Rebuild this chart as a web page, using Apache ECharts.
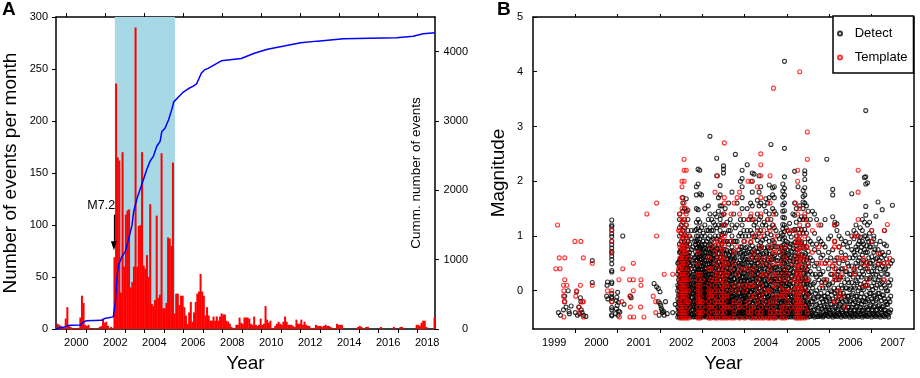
<!DOCTYPE html>
<html>
<head>
<meta charset="utf-8">
<script src="https://cdn.jsdelivr.net/npm/echarts@6/dist/echarts.min.js"></script>
<style>
  html, body { margin: 0; padding: 0; background: #fff; }
  #chart { width: 920px; height: 378px; }
</style>
</head>
<body>
<div id="chart"></div>
<script>
// ---------- Panel A: monthly event counts + cumulative curve ----------
const firstMonth = [1999, 6]; // first bar = June 1999
const monthlyEvents = [
  1, 5, 4, 3, 2, 1, 10,                                   // 1999 Jun-Dec
  21, 3, 2, 1, 1, 0, 1, 1, 11, 32, 25, 4,                 // 2000
  3, 4, 1, 0, 0, 1, 0, 1, 2, 3, 10, 6,                    // 2001
  7, 3, 1, 2, 1, 69, 236, 165, 162, 35, 170, 60,          // 2002
  110, 114, 115, 40, 45, 60, 290, 60, 99, 100, 170, 61,   // 2003
  58, 71, 50, 120, 24, 22, 28, 109, 30, 33, 169, 20,      // 2004
  20, 25, 88, 87, 80, 160, 15, 34, 34, 23, 32, 32,        // 2005
  21, 13, 5, 16, 26, 7, 16, 26, 34, 36, 53, 36,           // 2006
  32, 13, 21, 13, 8, 8, 12, 8, 12, 8, 12, 15,             // 2007
  14, 14, 8, 7, 5, 2, 1, 1, 4, 4, 11, 6,                  // 2008
  5, 11, 11, 11, 10, 5, 4, 12, 4, 3, 4, 10,               // 2009
  4, 5, 22, 9, 6, 8, 1, 1, 3, 5, 7, 5,                    // 2010
  4, 7, 12, 7, 4, 4, 4, 3, 2, 9, 5, 5,                    // 2011
  9, 4, 7, 4, 3, 3, 1, 1, 1, 4, 3, 3,                     // 2012
  3, 2, 3, 4, 3, 3, 2, 1, 0, 1, 5, 4,                     // 2013
  4, 4, 0, 0, 0, 0, 0, 0, 0, 0, 1, 2,                     // 2014
  3, 2, 1, 0, 2, 2, 0, 0, 0, 0, 0, 0,                     // 2015
  0, 2, 0, 0, 0, 0, 0, 0, 0, 2, 0, 0,                     // 2016
  0, 2, 2, 0, 0, 0, 0, 0, 0, 0, 0, 4,                     // 2017
  4, 3, 6, 8, 8, 2, 0, 0, 0, 0, 11                        // 2018 Jan-Nov
];

const cumYears = [1999.46, 1999.6, 1999.9, 2000.08, 2000.2, 2000.7, 2000.85, 2001.0, 2001.8, 2001.95,
  2002.4, 2002.45, 2002.51, 2002.6, 2002.68, 2002.85, 2003.02, 2003.19, 2003.36, 2003.44,
  2003.61, 2003.78, 2003.95, 2004.12, 2004.29, 2004.46, 2004.63, 2004.8, 2004.89, 2005.05,
  2005.23, 2005.39, 2005.5, 2005.74, 2005.99, 2006.24, 2006.5, 2006.67, 2006.92, 2007.09,
  2007.26, 2007.94, 2008.96, 2009.63, 2010.31, 2011.16, 2012.01, 2012.86, 2014.21, 2016.93,
  2017.78, 2018.29, 2018.9];
const cumEvents = [0, 15, 30, 50, 55, 58, 95, 118, 125, 150,
  175, 195, 408, 787, 930, 1048, 1119, 1308, 1498, 1688,
  1877, 2019, 2161, 2303, 2423, 2494, 2636, 2707, 2849, 2896,
  3014, 3157, 3276, 3347, 3418, 3465, 3503, 3536, 3692, 3740,
  3759, 3868, 3901, 3977, 4034, 4081, 4129, 4152, 4186, 4200,
  4223, 4257, 4272];

const shadeYears = [2002.48, 2005.56];
const mainshockArrow = [[2002.43, 110], [2002.43, 80]];
const mainshockText = [2001.78, 119, 'M7.2'];

const yearTicksA = [2000, 2001, 2002, 2003, 2004, 2005, 2006, 2007, 2008, 2009,
  2010, 2011, 2012, 2013, 2014, 2015, 2016, 2017, 2018];
const yearLabelsA = [2000, 2002, 2004, 2006, 2008, 2010, 2012, 2014, 2016, 2018];
const cumTicks = [0, 1000, 2000, 3000, 4000];

// ---------- Panel B: magnitudes of detected / template events ----------
const yearTicksB = [2000, 2001, 2002, 2003, 2004, 2005, 2006, 2007];
const yearLabelsB = [1999, 2000, 2001, 2002, 2003, 2004, 2005, 2006, 2007];
const magTicks = [0, 1, 2, 3, 4, 5];

const detectPoints = [
  [1999.6, -.4], [1999.65, -.45], [1999.72, -.35], [1999.75, -.1], [1999.75, -.2], [1999.78, -.3],
  [1999.83, 0], [1999.85, -.38], [1999.86, -.42], [1999.9, -.28], [2000.0, -.4], [2000.03, -.02],
  [2000.05, -.45], [2000.08, -.3], [2000.1, -.42], [2000.12, -.13], [2000.13, -.2], [2000.14, -.35],
  [2000.16, -.4], [2000.2, -.45], [2000.25, -.47], [2000.4, .55], [2000.4, .15],
  [2000.76, .16], [2000.75, .1], [2000.74, -.1], [2000.77, -.15],
  [2001.0, -.03], [2000.98, -.12], [2000.97, -.18], [2001.02, -.21], [2000.99, -.27], [2000.97, -.33],
  [2001.02, -.37], [2001.05, -.39], [2000.95, -.42], [2001.01, -.45], [2001.15, -.25], [2001.12, 1.0],
  [2001.3, -.1], [2001.32, -.13], [2001.86, .13], [2001.92, .07], [2001.96, .04], [2002.0, -.02],
  [2001.96, -.2], [2002.0, -.23], [2002.02, -.27], [2002.03, -.32], [2002.05, -.36], [2002.06, -.4],
  [2002.1, -.45], [2002.13, -.2], [2002.09, -.38], [2002.17, -.42], [2001.98, -.45],
  [2002.3, -.4], [2002.36, -.25]
];

const detectColumns = [
  [2000.86, [1.29, 1.2, 1.17, 1.11, 1.04, .99, .9, .84, .78, .72, .69, .63, .57, .49, .37, .34, .16, .13, -.05, -.11, -.14, -.2, -.31, -.35, -.44, -.46]],
  [2002.42, [-.48, -.4, -.3, -.15, 0, .1, .3, .5]],
  [2002.46, [-.48, -.42, -.35, -.25, -.18, -.1, 0, .08, .15, .25, .35, .45, .55, .7, .85, 1.0, 1.15, 1.3, 1.4]],
  [2002.50, [-.47, -.38, -.3, -.2, -.12, -.05, .05, .12, .2, .3, .4, .5, .6, .75, .9, 1.05, 1.2]],
  [2002.54, [-.48, -.4, -.33, -.22, -.15, -.05, .02, .1, .2, .28, .38, .48, .6, .7, .82, .95, 1.1, 1.25, 1.45, 1.6, 1.7]],
  [2002.58, [-.46, -.36, -.28, -.2, -.1, 0, .1, .18, .28, .36, .45, .55, .65, .78, .9, 1.02, 1.15, 1.3, 1.5]],
  [2002.62, [-.48, -.4, -.3, -.22, -.12, -.02, .06, .15, .25, .35, .46, .58, .7, .85, 1.0, 1.2, 1.45, 1.68]],
  [2002.66, [-.45, -.35, -.25, -.15, -.05, .05, .15, .25, .38, .5, .62, .75, .9, 1.1, 1.3, 1.47]],
  [2002.70, [-.48, -.38, -.28, -.18, -.08, .02, .12, .22, .34, .45, .58, .7, .85, 1.0]],
  [2002.74, [-.46, -.36, -.24, -.12, 0, .12, .25, .4, .55, .75, .95, 1.1]],
  [2002.78, [-.48, -.35, -.2, -.05, .1, .3, .5, .8]],
  [2002.82, [-.47, -.4, -.3, -.2, -.1, 0, .1, .25, .4, .6, .9, 1.1]],
  [2002.86, [-.48, -.4, -.3, -.22, -.14, -.05, .05, .15, .25, .35, .45, .55, .65, .78, .9, 1.0, 1.12, 1.25, 1.5, 1.75, 1.9]],
  [2002.90, [-.46, -.38, -.3, -.2, -.1, -.02, .08, .18, .28, .38, .5, .6, .72, .85, 1.0, 1.15, 1.3, 1.48, 1.95, 2.22]],
  [2002.94, [-.48, -.4, -.32, -.24, -.15, -.06, .04, .14, .24, .34, .44, .56, .68, .8, .95, 1.1, 1.25, 1.77, 2.2]],
  [2002.98, [-.47, -.37, -.27, -.17, -.07, .03, .13, .23, .33, .45, .58, .7, .85, 1.0, 1.15, 1.75]],
  [2003.02, [-.48, -.4, -.3, -.2, -.1, 0, .1, .2, .32, .45, .6, .75, .9, 1.05]],
  [2003.06, [-.46, -.36, -.26, -.16, -.06, .04, .16, .28, .42, .56, .7, .85, 1.0, 1.2, 1.5]],
  [2003.10, [-.48, -.38, -.28, -.18, -.08, .02, .14, .26, .4, .55, .7, .9, 1.1]],
  [2003.14, [-.47, -.39, -.3, -.2, -.1, 0, .1, .2, .3, .42, .55, .68, .82, .95, 1.1, 1.3, 1.55]],
  [2003.18, [-.48, -.4, -.32, -.22, -.12, -.02, .08, .18, .3, .42, .55, .7, .85, 1.0, 1.15, 1.4, 2.82]],
  [2003.22, [-.46, -.36, -.26, -.16, -.06, .06, .18, .3, .45, .6, .75, .92, 1.1, 1.3]],
  [2003.26, [-.48, -.38, -.28, -.18, -.08, .02, .12, .24, .36, .5, .65, .8, .95, 1.1, 1.25]],
  [2003.30, [-.47, -.37, -.27, -.15, -.03, .1, .22, .35, .5, .65, .82, 1.0, 1.2, 1.4]],
  [2003.34, [-.48, -.4, -.3, -.2, -.1, 0, .1, .22, .34, .48, .62, .78, .95, 1.15, 1.35, 2.1, 2.42]],
  [2003.38, [-.46, -.38, -.28, -.18, -.08, .02, .12, .24, .38, .52, .68, .84, 1.0, 1.2, 1.45, 1.7]],
  [2003.42, [-.48, -.4, -.32, -.22, -.12, -.02, .08, .2, .32, .45, .6, .76, .92, 1.1, 1.3, 1.55, 1.75, 1.92]],
  [2003.46, [-.47, -.37, -.27, -.17, -.07, .03, .14, .26, .4, .55, .7, .86, 1.02, 1.2, 1.38, 1.55]],
  [2003.50, [-.48, -.39, -.3, -.2, -.1, 0, .1, .2, .32, .45, .6, .75, .9, 1.05, 1.2, 1.4, 2.15, 2.22, 2.28]],
  [2003.54, [-.46, -.36, -.26, -.16, -.06, .05, .16, .28, .42, .58, .75, .9, 1.05, 1.2, 1.5]],
  [2003.58, [-.48, -.38, -.28, -.18, -.08, .02, .14, .28, .42, .58, .74, .9, 1.25]],
  [2003.62, [-.47, -.37, -.27, -.17, -.05, .08, .2, .34, .5, .66, .85, 1.1, 1.6]],
  [2003.66, [-.48, -.4, -.3, -.2, -.1, 0, .12, .25, .4, .56, .72, .9, 1.1, 1.3]],
  [2003.70, [-.46, -.36, -.24, -.12, 0, .12, .26, .42, .6, .8, 1.0, 1.2, 1.8]],
  [2003.74, [-.48, -.38, -.28, -.16, -.04, .08, .22, .38, .55, .72, .9, 1.4]],
  [2003.78, [-.47, -.37, -.25, -.13, 0, .14, .3, .48, .68, .9, 1.15, 2.49]],
  [2003.82, [-.48, -.36, -.22, -.08, .08, .25, .45, .65, .9, 1.2, 1.6]],
  [2003.86, [-.46, -.34, -.2, -.05, .1, .28, .5, .75, 1.0]],
  [2003.90, [-.48, -.38, -.26, -.12, .02, .18, .36, .56, .8, 1.05, 1.3, 2.0]],
  [2003.94, [-.47, -.37, -.27, -.15, -.03, .1, .25, .42, .6, .8, 1.0, 1.2, 1.5, 1.7, 1.9, 2.05, 2.2]],
  [2003.98, [-.48, -.4, -.3, -.2, -.1, 0, .12, .25, .4, .56, .72, .9, 1.1, 1.3]],
  [2004.02, [-.46, -.36, -.26, -.14, -.02, .1, .24, .4, .58, .78, 1.0]],
  [2004.06, [-.48, -.38, -.26, -.12, .02, .18, .36, .56, .8, 1.1, 1.5, 2.3]],
  [2004.10, [-.47, -.35, -.22, -.08, .08, .26, .46, .7, 1.0, 1.3]],
  [2004.14, [-.48, -.38, -.27, -.15, -.02, .12, .28, .46, .66, .88, 1.1, 1.35, 1.6]],
  [2004.18, [-.46, -.36, -.24, -.1, .05, .22, .4, .6, .82, 1.05, 1.3, 1.55, 1.8, 2.0, 2.15]],
  [2004.22, [-.48, -.4, -.3, -.18, -.06, .08, .22, .38, .55, .75, .98, 1.2, 2.13]],
  [2004.26, [-.47, -.37, -.25, -.12, .02, .18, .35, .55, .78, 1.0, 1.25]],
  [2004.30, [-.48, -.38, -.26, -.13, 0, .15, .32, .5, .7, .92, 1.15, 1.4, 1.65]],
  [2004.34, [-.46, -.36, -.24, -.1, .05, .22, .4, .6, .82, 1.05, 1.3, 1.55, 1.8, 2.1]],
  [2004.38, [-.48, -.38, -.27, -.15, -.02, .12, .28, .46, .66, .88, 1.1, 1.35, 1.6, 1.9]],
  [2004.42, [-.47, -.35, -.22, -.08, .08, .25, .45, .68, .92, 1.2]],
  [2004.46, [-.48, -.37, -.25, -.12, .02, .18, .36, .56, .78, 1.0, 1.25, 1.55]],
  [2004.50, [-.46, -.34, -.2, -.05, .12, .3, .5, .72, .95, 1.2, 1.45, 1.68]],
  [2004.54, [-.48, -.38, -.26, -.12, .03, .2, .38, .58, .8, 1.05, 1.3, 1.6]],
  [2004.58, [-.47, -.36, -.24, -.1, .06, .24, .44, .66, .9, 1.15, 1.4, 1.7, 1.93]],
  [2004.62, [-.48, -.38, -.26, -.13, .02, .18, .36, .56, .78, 1.02, 1.3, 2.67]],
  [2004.66, [-.46, -.35, -.22, -.08, .08, .26, .46, .68, .92, 1.2, 1.5, 1.75, 1.88]],
  [2004.70, [-.48, -.38, -.26, -.12, .04, .22, .42, .64, .88, 1.15, 1.45, 1.7, 1.9]],
  [2004.74, [-.47, -.36, -.22, -.06, .12, .32, .55, .8, 1.1, 1.4]],
  [2004.78, [-.48, -.36, -.22, -.06, .12, .32, .55, .8, 1.0]],
  [2004.82, [-.46, -.32, -.16, .02, .22, .45, .7, .95]],
  [2004.86, [-.48, -.36, -.22, -.06, .12, .32, .55, .8, 1.05]],
  [2004.90, [-.47, -.38, -.29, -.17, -.08, .03, .11, .23, .31, .43, .51, .63, .71, .83, .94, 1.02, 1.13, 1.21, 1.34, 1.45, 1.57, 1.71, 1.82, 1.95]],
  [2004.94, [-.48, -.4, -.31, -.2, -.11, -.02, .09, .18, .3, .4, .5, .62, .73, .85, .97, 1.08, 1.2, 1.33, 1.46, 1.6, 1.75, 1.87, 2.08, 2.6, 4.19]],
  [2004.98, [-.46, -.35, -.22, -.08, .08, .25, .44, .65, .9, 1.15]],
  [2005.02, [-.48, -.38, -.26, -.12, .04, .22, .42, .64, .88, 1.1]],
  [2005.06, [-.47, -.35, -.22, -.06, .12, .32, .55, .8, 1.05, 1.23]],
  [2005.10, [-.48, -.37, -.24, -.09, .08, .27, .48, .72, .98]],
  [2005.14, [-.46, -.34, -.2, -.04, .14, .35, .58, .84, 1.1, 1.4]],
  [2005.18, [-.48, -.38, -.26, -.12, .04, .22, .42, .64, .88, 1.12, 1.38, 1.6, 2.18]],
  [2005.22, [-.47, -.36, -.23, -.08, .1, .3, .52, .76, 1.0, 1.25, 1.5]],
  [2005.26, [-.48, -.38, -.26, -.12, .04, .22, .42, .64, .88, 1.12, 1.9]],
  [2005.30, [-.46, -.35, -.22, -.06, .12, .32, .54, .78, 1.05, 1.3, 1.55]],
  [2005.34, [-.48, -.38, -.26, -.12, .04, .22, .42, .64, .88, 1.12, 1.35]],
  [2005.38, [-.47, -.36, -.22, -.06, .12, .32, .55, .8, 1.05, 1.3, 1.5, 1.62, 1.72, 1.83]],
  [2005.42, [-.48, -.38, -.26, -.12, .04, .22, .42, .64, .88, 1.12, 1.35, 1.6, 1.75, 1.88, 2.03, 2.13, 2.19]],
  [2005.46, [-.46, -.34, -.2, -.04, .14, .34, .56, .8, 1.05, 1.3, 1.55]],
  [2005.50, [-.48, -.36, -.22, -.06, .12, .3, .5, .72, .95, 1.2, 1.45]],
  [2005.55, [-.47, -.3, -.1, .1, .35, .6, .9, 1.3]],
  [2005.60, [-.45, -.2, .05, .3, .55, .85, 1.45]],
  [2005.65, [-.48, -.35, -.15, .15, .45, .75, 1.05, 1.4]],
  [2005.70, [-.44, -.25, 0, .25, .5, .85, 1.3]],
  [2005.75, [-.47, -.32, -.1, .2, .4, .7, .95]],
  [2005.80, [-.46, -.28, -.05, .3, .6, .9, 1.2]],
  [2005.85, [-.48, -.38, -.2, .05, .35, .65, .85]],
  [2005.90, [-.45, -.3, -.1, .15, .5, .8, 1.3]],
  [2005.94, [-.4, -.2, .2, .55, 2.4]],
  [2005.98, [-.47, -.33, -.12, .1, .4, .7, .95]],
  [2006.03, [-.44, -.25, 0, .3, .6, 1.0]],
  [2006.08, [-.48, -.35, -.15, .15, .45, .75, 1.35, 1.75, 1.85]],
  [2006.13, [-.46, -.3, -.05, .25, .55, .9, 1.2, 1.25]],
  [2006.18, [-.47, -.38, -.2, 0, .3, .6, 1.1, 1.22]],
  [2006.23, [-.44, -.28, -.1, .2, .5, .8, 1.0]],
  [2006.28, [-.48, -.35, -.15, .1, .4, .7, .95]],
  [2006.33, [-.45, -.3, -.05, .25, .55, .85]],
  [2006.38, [-.47, -.36, -.18, .05, .35, .65, .9]],
  [2006.43, [-.44, -.3, -.1, .2, .5, .8, 1.05]],
  [2006.48, [-.48, -.38, -.2, .02, .3, .6, .88]],
  [2006.53, [-.46, -.3, -.08, .15, .45, .75, 1.0, 1.77]],
  [2006.58, [-.48, -.36, -.16, .08, .38, .7, .95, 1.1]],
  [2006.63, [-.45, -.3, -.1, .18, .5, .8, 1.05, 1.2]],
  [2006.68, [-.47, -.38, -.22, 0, .25, .55, .85, 1.0]],
  [2006.73, [-.44, -.3, -.12, .12, .42, .72, .98, 1.15]],
  [2006.78, [-.48, -.36, -.18, .06, .35, .65, .9, 1.1, 1.3]],
  [2006.83, [-.46, -.32, -.12, .15, .45, .75, 1.0, 1.25, 2.07]],
  [2006.86, [-.45, -.2, .1, .4, .7, 1.0, 1.38, 1.54, 1.95, 2.08, 3.29]],
  [2006.90, [-.47, -.35, -.15, .1, .4, .7, .95, 1.2, 1.97]],
  [2006.95, [-.44, -.28, -.05, .22, .5, .8, 1.05, 1.25]],
  [2007.00, [-.48, -.35, -.15, .08, .35, .62, .9, 1.1]],
  [2007.05, [-.45, -.3, -.1, .15, .42, .7, .95, 1.0]],
  [2007.10, [-.47, -.36, -.18, .05, .3, .58, .85, 1.36]],
  [2007.15, [-.44, -.28, -.05, .2, .48, .75, 1.62]],
  [2007.20, [-.48, -.33, -.12, .12, .4, .68, .9]],
  [2007.25, [-.45, -.3, -.08, .15, .45, .7, 1.48]],
  [2007.30, [-.47, -.35, -.15, .1, .38, .65, .85, 1.1]],
  [2007.35, [-.44, -.25, 0, .3, .58, .82]],
  [2007.40, [-.48, -.38, -.15, .15, .45, .7]],
  [2007.45, [-.35, -.1, .2, .5]],
  [2007.49, [.55, 1.56]]
];

// extra low-magnitude detections that fill the dense lower part of the cloud
const detectLowColumns = [
  [2002.44, [-.44, -.33, -.21, -.08, .06, .2, .36, .52]],
  [2002.48, [-.46, -.36, -.27, -.16, -.06, .04, .16, .28, .42, .58, .72]],
  [2002.52, [-.43, -.33, -.24, -.13, -.01, .09, .23, .37, .52, .66]],
  [2002.56, [-.45, -.35, -.25, -.13, -.03, .08, .22, .33, .47, .61, .8]],
  [2002.60, [-.42, -.32, -.19, -.07, .04, .17, .31, .41, .53, .67]],
  [2002.64, [-.44, -.31, -.2, -.09, .01, .11, .2, .3, .43, .55, .68, .81]],
  [2002.68, [-.42, -.32, -.21, -.1, 0, .09, .19, .29, .41, .52, .64]],
  [2002.72, [-.43, -.3, -.19, -.04, .06, .18, .31, .47, .62]],
  [2002.76, [-.43, -.28, -.12, .03, .2]],
  [2002.84, [-.44, -.34, -.25, -.17, -.07, .02, .12, .2, .31, .41, .5, .62, .71, .84]],
  [2002.88, [-.44, -.33, -.24, -.15, -.06, .03, .13, .23, .33, .44, .55, .66, .79, .93]],
  [2002.92, [-.43, -.34, -.26, -.16, -.05, .05, .16, .29, .4, .52, .63, .76, .88]],
  [2002.96, [-.45, -.35, -.23, -.11, -.01, .09, .19, .28, .39, .51, .63, .77]],
  [2003.00, [-.44, -.35, -.25, -.15, -.05, .06, .16, .27, .39, .52, .67, .82]],
  [2003.04, [-.43, -.31, -.21, -.11, 0, .1, .22, .35, .49, .63, .78]],
  [2003.08, [-.44, -.33, -.23, -.13, -.02, .08, .2, .33, .47, .62, .78]],
  [2003.12, [-.43, -.35, -.25, -.15, -.05, .05, .15, .25, .36, .48, .61, .75]],
  [2003.16, [-.44, -.36, -.27, -.17, -.07, .03, .13, .24, .36, .49, .62, .77]],
  [2003.20, [-.43, -.31, -.21, -.11, .01, .12, .24, .37, .52, .67, .83]],
  [2003.24, [-.44, -.33, -.23, -.13, -.03, .07, .18, .3, .43, .57, .72]],
  [2003.28, [-.43, -.32, -.21, -.09, .04, .16, .28, .42, .57, .73]],
  [2003.32, [-.45, -.35, -.25, -.15, -.05, .05, .16, .28, .41, .55, .7]],
  [2003.36, [-.43, -.33, -.23, -.13, -.03, .07, .18, .31, .45, .6, .76]],
  [2003.40, [-.44, -.36, -.27, -.17, -.07, .03, .14, .26, .38, .52, .68]],
  [2003.44, [-.42, -.32, -.22, -.12, -.02, .09, .2, .33, .47, .62, .78]],
  [2003.48, [-.44, -.35, -.25, -.15, -.05, .05, .15, .26, .38, .52, .67]],
  [2003.52, [-.42, -.31, -.21, -.11, 0, .11, .22, .35, .5, .66]],
  [2003.56, [-.43, -.33, -.23, -.13, -.03, .08, .21, .35, .5, .66]],
  [2003.60, [-.42, -.32, -.22, -.11, .01, .14, .27, .42, .58]],
  [2003.64, [-.44, -.35, -.25, -.15, -.05, .06, .18, .32, .48, .64]],
  [2003.68, [-.42, -.3, -.18, -.06, .06, .19, .34, .51, .7]],
  [2003.72, [-.43, -.33, -.22, -.1, .02, .15, .3, .47, .64]],
  [2003.76, [-.42, -.31, -.19, -.07, .07, .22, .39, .58]],
  [2003.80, [-.43, -.29, -.15, 0, .16, .35, .55]],
  [2003.84, [-.42, -.28, -.13, .02, .18, .38]],
  [2003.88, [-.43, -.32, -.19, -.05, .1, .27, .46, .68]],
  [2003.92, [-.42, -.32, -.21, -.09, .04, .17, .33, .5, .7]],
  [2003.96, [-.44, -.35, -.25, -.15, -.05, .06, .18, .32, .48, .64]],
  [2004.00, [-.41, -.31, -.2, -.08, .04, .17, .32, .49, .68]],
  [2004.04, [-.43, -.32, -.19, -.05, .1, .27, .46, .68]],
  [2004.08, [-.42, -.29, -.15, 0, .17, .36, .58]],
  [2004.12, [-.43, -.32, -.21, -.08, .05, .2, .37, .56, .77]],
  [2004.16, [-.41, -.3, -.17, -.03, .13, .31, .51, .71]],
  [2004.20, [-.44, -.35, -.24, -.12, .01, .15, .3, .46, .65]],
  [2004.24, [-.42, -.31, -.18, -.05, .1, .26, .44, .66]],
  [2004.28, [-.43, -.32, -.2, -.07, .07, .23, .41, .6]],
  [2004.32, [-.41, -.3, -.17, -.03, .13, .31, .51, .71]],
  [2004.36, [-.43, -.32, -.21, -.08, .05, .2, .37, .56, .77]],
  [2004.40, [-.42, -.29, -.15, 0, .16, .35, .56, .8]],
  [2004.44, [-.43, -.31, -.18, -.05, .1, .27, .46, .67]],
  [2004.48, [-.41, -.27, -.12, .04, .21, .4, .61]],
  [2004.52, [-.43, -.32, -.19, -.05, .11, .29, .48, .69]],
  [2004.56, [-.42, -.3, -.17, -.02, .15, .34, .55, .78]],
  [2004.60, [-.43, -.32, -.2, -.07, .1, .27, .46, .67]],
  [2004.64, [-.41, -.28, -.15, 0, .17, .36, .57, .8]],
  [2004.68, [-.43, -.3, -.15, 0, .17, .36, .57]],
  [2004.72, [-.42, -.28, -.14, .03, .22, .43, .66]],
  [2004.76, [-.43, -.29, -.14, .03, .22, .43]],
  [2004.80, [-.42, -.25, -.08, .11, .33]],
  [2004.84, [-.43, -.29, -.14, .03, .22, .43, .65]],
  [2004.88, [-.42, -.3, -.17, -.03, .14, .33, .55, .77]],
  [2004.92, [-.43, -.34, -.24, -.12, 0, .14, .27, .38, .56, .67]],
  [2004.96, [-.42, -.3, -.17, -.03, .14, .33, .55, .78]],
  [2005.00, [-.43, -.32, -.19, -.04, .13, .32, .53, .75]],
  [2005.04, [-.42, -.29, -.14, .03, .22, .43, .66]],
  [2005.08, [-.43, -.31, -.17, -.01, .17, .37, .6, .85]],
  [2005.12, [-.42, -.28, -.12, .06, .25, .46, .7]],
  [2005.16, [-.43, -.31, -.18, -.03, .14, .33, .54, .77]],
  [2005.20, [-.42, -.3, -.16, 0, .19, .4, .63, .88]],
  [2005.24, [-.43, -.32, -.19, -.04, .13, .32, .53, .76]],
  [2005.28, [-.42, -.29, -.14, .03, .23, .45, .68, .93]],
  [2005.32, [-.43, -.31, -.17, -.01, .17, .37, .6, .85]],
  [2005.36, [-.42, -.29, -.14, .03, .22, .43, .66]],
  [2005.40, [-.43, -.32, -.19, -.04, .13, .32, .53, .77]],
  [2005.44, [-.42, -.28, -.12, .05, .24, .45, .68]],
  [2005.48, [-.43, -.31, -.17, 0, .18, .38, .6]],
  [2005.52, [-.42, -.26, -.05, .2, .45]],
  [2005.57, [-.42, -.38, -.2, -.02]],
  [2005.62, [-.46, -.36, -.13, .12]],
  [2005.67, [-.43, -.27, -.05, .3]],
  [2005.72, [-.47, -.36, -.12]],
  [2005.77, [-.44, -.22, .05, .3]],
  [2005.82, [-.42, -.33, -.15, .15]],
  [2005.87, [-.46, -.28, -.1, .2]],
  [2005.92, [-.43, -.36, -.18, .05]],
  [2005.96, [-.45, -.3, -.05]],
  [2006.01, [-.42, -.35, -.15, .12]],
  [2006.06, [-.45, -.25, -.02, .3]],
  [2006.11, [-.43, -.38, -.2, .05]],
  [2006.16, [-.45, -.28, -.1, .2, .4]],
  [2006.21, [-.42, -.35, -.18, .05, .35]],
  [2006.26, [-.45, -.25, -.05, .25]],
  [2006.31, [-.42, -.38, -.2, .05, .4]],
  [2006.36, [-.45, -.28, -.1, .15]],
  [2006.41, [-.42, -.36, -.2, .05, .35]],
  [2006.46, [-.45, -.3, -.1, .15, .45]],
  [2006.51, [-.42, -.35, -.18, .05, .3]],
  [2006.56, [-.45, -.25, -.05, .25, .6]],
  [2006.61, [-.42, -.36, -.2, .05, .35, .65]],
  [2006.66, [-.45, -.28, -.1, .15, .45, .75]],
  [2006.71, [-.42, -.35, -.18, .05, .3, .6, .9]],
  [2006.76, [-.45, -.25, -.05, .25, .5, .8]],
  [2006.81, [-.42, -.36, -.2, .02, .3, .55, .85]],
  [2006.88, [-.45, -.3, -.08, .22, .52, .82]],
  [2006.93, [-.42, -.35, -.18, .05, .35, .6, .9]],
  [2006.98, [-.45, -.26, -.05, .25, .5, .8]],
  [2007.03, [-.42, -.36, -.2, .02, .3, .55]],
  [2007.08, [-.45, -.28, -.08, .2, .45, .75]],
  [2007.13, [-.42, -.35, -.15, .1, .35, .6]],
  [2007.18, [-.45, -.26, -.05, .25, .55]],
  [2007.23, [-.42, -.35, -.18, .05, .3, .6]],
  [2007.28, [-.45, -.28, -.08, .2, .5]],
  [2007.33, [-.42, -.36, -.2, .05, .4]],
  [2007.38, [-.45, -.25, 0, .3]],
  [2007.43, [-.4, -.2, .1]]
];

const templatePoints = [
  [1999.58, 1.2], [1999.54, .4], [1999.64, .4], [1999.62, .6], [1999.75, .6], [1999.75, .2],
  [1999.72, .1], [1999.8, .1], [1999.73, 0], [1999.72, -.1], [1999.74, -.2], [1999.73, -.48],
  [1999.99, .9], [2000.13, .9], [2000.19, .6], [2000.03, 0], [2000.12, .1], [2000.01, -.1],
  [2000.17, -.2], [2000.19, -.2], [2000.09, -.3], [2000.09, -.4], [2000.19, -.48],
  [2000.4, .5], [2000.4, .1], [2000.86, 1.1], [2000.86, .9], [2000.86, .7], [2000.86, 0],
  [2000.86, -.2], [2000.76, 0], [2001.12, .4], [2001.03, .2], [2001.28, .2], [2001.37, .2],
  [2001.37, .5], [2001.37, 0], [2001.29, -.1], [2001.1, -.2], [2001.3, -.3], [2001.54, -.3],
  [2001.04, -.48], [2001.29, -.48], [2001.38, -.48], [2001.62, -.48], [2001.69, 1.4],
  [2001.92, 1.6], [2001.92, 1.0], [2001.55, .2], [2001.55, .1], [2001.84, -.1], [2001.9, -.2],
  [2002.1, .3], [2002.3, .3], [2001.9, -.4], [2002.44, 1.1], [2002.44, .4]
];

const templateColumns = [
  [2002.47, [-.5, -.4, -.3, -.2, -.1, 0, .1, .2, .3, .4, .5, .6, .8, 1.1, 1.4]],
  [2002.52, [-.5, -.4, -.3, -.2, -.1, 0, .1, .2, .3, .4, .5, .6, .7, .8, .9, 1.0, 1.2, 1.3, 1.5, 1.7, 1.9, 2.0]],
  [2002.57, [-.5, -.4, -.3, -.1, 0, .1, .2, .3, .4, .5, .6, .7, .8, 1.0, 1.1, 1.3, 1.6, 2.0, 2.2, 2.4]],
  [2002.62, [-.5, -.4, -.2, -.1, 0, .1, .2, .3, .5, .7, .8, .9, 1.2, 1.4, 1.5, 2.2]],
  [2002.67, [-.5, -.3, -.2, 0, .2, .4, .6, 1.0]],
  [2002.90, [-.5, -.4, -.3, -.2, -.1, 0, .1, .2, .3, .5, .7]],
  [2002.95, [-.5, -.4, -.2, -.1, 0, .1, .3]],
  [2003.00, [-.4, -.3, -.2, .2]],
  [2003.15, [-.5, -.4, -.3, -.2, -.1, 0, .1, .4, .6]],
  [2003.20, [-.5, -.3, -.1, 0, .2, .4, .8]],
  [2003.30, [-.5, -.4, -.3, -.2, -.1, 0, .1, .2, .3, .5, .7, .9, 1.8]],
  [2003.36, [-.5, -.4, -.2, 0, .2, .3, .4, .6, .8, .9, 2.1]],
  [2003.45, [-.5, -.4, -.3, -.2, -.1, 0, .1, .2, .3, .4, .5, .6, .7, .8, .9, 1.0]],
  [2003.52, [-.5, -.4, -.3, -.2, -.1, 0, .1, .2, .3, .4, .5, .6, .8, .9, 1.0, 1.2, 1.4, 1.6, 1.7, 2.7]],
  [2003.58, [-.5, -.3, -.1, .1, .3, .5]],
  [2003.68, [-.5, -.3, 0, .4, .9, 1.4]],
  [2003.75, [-.5, -.4, -.2, .1, .5, .7, 1.6]],
  [2003.82, [-.3, 0, .3, .8, 1.7]],
  [2003.88, [-.5, -.3, -.2, .1, .4, 1.4, 1.8]],
  [2004.00, [-.5, -.3, 0, .1, .4, .9]],
  [2004.08, [-.4, -.2, .1, .4, 1.3, 2.0]],
  [2004.15, [-.5, -.4, -.3, -.1, .1, .3, .6, .9, 1.4, 2.0]],
  [2004.22, [-.5, -.3, -.1, .1, .4, .7, 1.0, 1.3]],
  [2004.30, [-.5, -.4, -.2, 0, .2, .6, 1.1, 1.9]],
  [2004.38, [-.5, -.4, -.3, -.1, .1, .3, .5, .8, 1.0, 1.4, 1.7, 2.1, 2.3, 2.5]],
  [2004.45, [-.5, -.2, 0, .3, .6, 1.1]],
  [2004.55, [-.5, -.3, 0, .3, .5, 1.3]],
  [2004.60, [-.5, -.4, -.2, 0, .2, .4, .6, .8, 1.1, 1.6, 2.1]],
  [2004.68, [-.5, -.4, -.3, -.1, .1, .3, .5, .7, .9, 1.2, 1.4, 3.7]],
  [2004.72, [-.5, -.2, .1, .3, .7, 1.0]],
  [2004.80, [-.4, -.1, .2, .5, .8]],
  [2004.88, [-.5, -.4, -.3, -.1, 0, .1, .3, .5, .7]],
  [2004.95, [-.5, -.3, -.1, 0, .2, .4, .6, .8]],
  [2005.00, [-.4, -.2, 0, .3, 1.1]],
  [2005.10, [-.3, 0, .2, .5, 1.1]],
  [2005.20, [-.5, -.4, -.3, -.2, -.1, 0, .1, .2, .3, .4, .6, .8, .9, 1.1, 1.6]],
  [2005.25, [-.5, -.4, -.3, -.2, -.1, 0, .1, .2, .3, .4, .5, .7, .9, 1.0, 1.4, 2.0, 2.2]],
  [2005.30, [-.5, -.4, -.3, -.2, -.1, 0, .1, .2, .3, .4, .5, .6, .7, .8, .9, 1.0, 1.2, 1.5, 4.0]],
  [2005.35, [-.5, -.3, -.2, 0, .1, .3, .5, .6, .8, .9, 1.1]],
  [2005.42, [-.5, -.3, 0, .2, .4, .6, .8, 1.0, 1.3, 1.4]],
  [2005.48, [-.4, -.1, .2, .5, .8, 1.2, 2.4, 2.9]],
  [2005.60, [.7, 1.1]],
  [2005.75, [.5, .8, 1.2]],
  [2005.82, [.1, .5]],
  [2005.90, [.2, .5]],
  [2006.00, [.5]],
  [2006.12, [-.2, .2, .3, .4, .5, .8, .9, 1.2]],
  [2006.22, [-.1, 0, .22, .6, .8]],
  [2006.30, [-.1, .29, .59]],
  [2006.37, [-.3, .41, .59]],
  [2006.59, [.3, .41, 1.0]],
  [2006.68, [1.0, 1.3, 1.8, 2.2]],
  [2006.80, [.1, .5, .59]],
  [2006.90, [.1, .2, .41, .5]],
  [2007.00, [.9, 1.1]],
  [2007.16, [.5, .68]],
  [2007.30, [.2, .5, 1.1]],
  [2007.37, [.5, 1.21]],
  [2007.43, [.59]]
];

// ---------- build series data ----------
const barData = monthlyEvents.map((v, i) => [firstMonth[0] + (firstMonth[1] - 1 + i + 0.5) / 12, v]);
const cumData = cumYears.map((y, i) => [y, cumEvents[i]]);
function flatten(points, ...columnSets) {
  const out = points.slice();
  columnSets.forEach(cols => cols.forEach(([yr, mags]) => mags.forEach(m => out.push([yr, m]))));
  return out;
}
const detectData = flatten(detectPoints, detectColumns, detectLowColumns);
const templateData = flatten(templatePoints, templateColumns);

const FONT = '"Liberation Sans", Arial, Helvetica, sans-serif';
const lineStyle = { color: '#000', width: 1.5 };
const labelStyle = { color: '#000', fontSize: 11, fontFamily: FONT };
const nameStyle = { color: '#000', fontSize: 19, fontFamily: FONT };

const chart = echarts.init(document.getElementById('chart'), null, { renderer: 'canvas' });

chart.setOption({
  animation: false,
  backgroundColor: '#fff',
  title: [
    { text: 'A', left: 2, top: 0, padding: 0, textStyle: { fontSize: 19, fontWeight: 'bold', fontFamily: FONT, color: '#000' } },
    { text: 'B', left: 497, top: 0, padding: 0, textStyle: { fontSize: 19, fontWeight: 'bold', fontFamily: FONT, color: '#000' } }
  ],
  legend: {
    data: ['Detect', 'Template'],
    orient: 'vertical',
    left: 833,
    top: 16,
    padding: [11, 6, 9, 4],
    itemGap: 11,
    itemWidth: 5,
    itemHeight: 4,
    borderColor: '#000',
    borderWidth: 1.5,
    borderRadius: 0,
    backgroundColor: '#fff',
    formatter: n => '  ' + n,
    textStyle: { color: '#000', fontSize: 13, fontFamily: FONT }
  },
  grid: [
    { left: 53, top: 17, width: 382, height: 317 },
    { left: 533, top: 17, width: 381, height: 317 }
  ],
  xAxis: [
    {
      gridIndex: 0, type: 'value', position: 'bottom', min: 1999.46, max: 2018.9,
      axisLine: { onZero: false, lineStyle }, splitLine: { show: false },
      axisTick: { customValues: yearTicksA, length: 4, lineStyle: { color: '#000' } },
      axisLabel: { customValues: yearLabelsA.map(y => y + 0.5), formatter: v => String(v - 0.5), margin: 8, ...labelStyle },
      name: 'Year', nameLocation: 'middle', nameGap: 25, nameTextStyle: nameStyle
    },
    {
      gridIndex: 0, type: 'value', position: 'top', min: 1999.46, max: 2018.9,
      axisLine: { onZero: false, lineStyle }, splitLine: { show: false },
      axisTick: { customValues: yearLabelsA, length: 4, lineStyle: { color: '#000' } },
      axisLabel: { show: false }
    },
    {
      gridIndex: 1, type: 'value', position: 'bottom', min: 1999, max: 2008,
      axisLine: { onZero: false, lineStyle }, splitLine: { show: false },
      axisTick: { customValues: yearTicksB, length: 4, lineStyle: { color: '#000' } },
      axisLabel: { customValues: yearLabelsB.map(y => y + 0.5), formatter: v => String(v - 0.5), margin: 8, ...labelStyle },
      name: 'Year', nameLocation: 'middle', nameGap: 25, nameTextStyle: nameStyle
    },
    {
      gridIndex: 1, type: 'value', position: 'top', min: 1999, max: 2008,
      axisLine: { onZero: false, lineStyle }, splitLine: { show: false },
      axisTick: { customValues: yearTicksB, length: 3, lineStyle: { color: '#000' } },
      axisLabel: { show: false }
    }
  ],
  yAxis: [
    {
      gridIndex: 0, type: 'value', position: 'left', min: 0, max: 300, interval: 50,
      axisLine: { show: true, onZero: false, lineStyle }, splitLine: { show: false },
      axisTick: { show: true, length: 4, lineStyle: { color: '#000' } },
      axisLabel: { margin: 8, ...labelStyle },
      name: 'Number of events per month', nameLocation: 'middle', nameGap: 36, nameTextStyle: nameStyle
    },
    {
      gridIndex: 0, type: 'value', position: 'right', min: 0, max: 4500,
      axisLine: { show: true, onZero: false, lineStyle }, splitLine: { show: false },
      axisTick: { show: true, customValues: cumTicks, length: 4, lineStyle: { color: '#000' } },
      axisLabel: { customValues: cumTicks, formatter: v => String(v), align: 'right', margin: 33, ...labelStyle },
      name: 'Cumm. number of events', nameLocation: 'middle', nameRotate: 90, nameGap: -26,
      nameTextStyle: { color: '#000', fontSize: 13.5, fontFamily: FONT }
    },
    {
      gridIndex: 1, type: 'value', position: 'left', min: -0.7, max: 5,
      axisLine: { show: true, onZero: false, lineStyle }, splitLine: { show: false },
      axisTick: { show: true, inside: true, customValues: magTicks, length: 4, lineStyle: { color: '#000' } },
      axisLabel: { customValues: magTicks, formatter: v => String(v), margin: 10, ...labelStyle },
      name: 'Magnitude', nameLocation: 'middle', nameGap: 25, nameTextStyle: nameStyle
    },
    {
      gridIndex: 1, type: 'value', position: 'right', min: -0.7, max: 5,
      axisLine: { show: true, onZero: false, lineStyle }, splitLine: { show: false },
      axisTick: { show: true, inside: true, customValues: magTicks, length: 4, lineStyle: { color: '#000' } },
      axisLabel: { show: false }
    }
  ],
  series: [
    {
      name: 'Monthly events', type: 'bar', xAxisIndex: 0, yAxisIndex: 0,
      data: barData, barWidth: 2, z: 2,
      itemStyle: { color: '#ff0000' },
      markArea: {
        silent: true, z: 1,
        itemStyle: { color: '#a6d8e5' },
        data: [[{ xAxis: shadeYears[0] }, { xAxis: shadeYears[1] }]]
      },
      markLine: {
        silent: true, animation: false,
        symbol: ['none', 'triangle'], symbolSize: [6, 9],
        lineStyle: { color: '#000', width: 1.2, type: 'solid' },
        label: { show: false },
        data: [[{ coord: mainshockArrow[0] }, { coord: mainshockArrow[1] }]]
      },
      markPoint: {
        silent: true, symbolSize: 0,
        label: { show: true, position: 'inside', formatter: mainshockText[2], color: '#000', fontSize: 12.5, fontFamily: FONT },
        data: [{ coord: [mainshockText[0], mainshockText[1]] }]
      }
    },
    {
      name: 'Cumulative', type: 'line', xAxisIndex: 0, yAxisIndex: 1,
      data: cumData, showSymbol: false, z: 3,
      lineStyle: { color: '#0000ff', width: 1.5 }
    },
    {
      name: 'Detect', type: 'scatter', xAxisIndex: 2, yAxisIndex: 2,
      data: detectData, symbol: 'circle', symbolSize: 4, progressive: 0, z: 2,
      itemStyle: { color: 'rgba(0,0,0,0)', borderColor: '#000', borderWidth: 1.1 }
    },
    {
      name: 'Template', type: 'scatter', xAxisIndex: 2, yAxisIndex: 2,
      data: templateData, symbol: 'circle', symbolSize: 4, progressive: 0, z: 3,
      itemStyle: { color: 'rgba(0,0,0,0)', borderColor: '#ff0000', borderWidth: 1.1 }
    }
  ]
});
</script>
</body>
</html>
